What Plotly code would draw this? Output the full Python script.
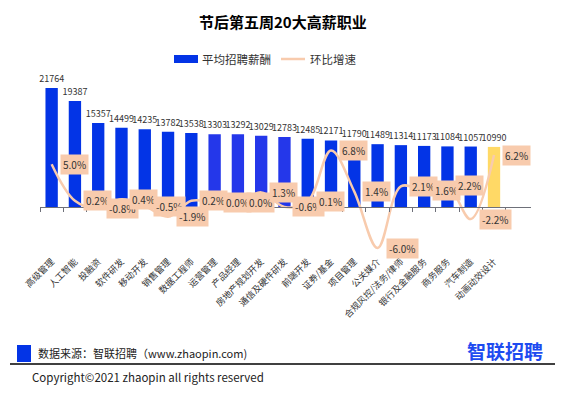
import plotly.graph_objects as go

categories = ["高级管理", "人工智能", "投融资", "软件研发", "移动开发", "销售管理", "数据工程师",
              "运营管理", "产品经理", "房地产规划开发", "通信及硬件研发", "前端开发", "证券/基金",
              "项目管理", "公关媒介", "合规风控/法务/律师", "银行及金融服务", "商务服务", "汽车制造",
              "动画动效设计"]
salary = [21764, 19387, 15357, 14499, 14235, 13782, 13538, 13303, 13292, 13029,
          12783, 12485, 12171, 11790, 11489, 11314, 11173, 11084, 11057, 10990]
growth = [5.0, 0.2, -0.8, 0.4, -0.5, -1.9, 0.2, 0.0, 0.0, 1.3,
          -0.6, 0.1, 6.8, 1.4, -6.0, 2.1, 1.6, 2.2, -2.2, 6.2]

title_text = "节后第五周20大高薪职业"
legend_names = ["平均招聘薪酬", "环比增速"]
source_text = "数据来源：智联招聘（www.zhaopin.com)"
logo_text = "智联招聘"
copyright_text = "Copyright©2021 zhaopin all rights reserved"

W, H = 565, 393
FONT = "Noto Sans CJK SC, Noto Sans, sans-serif"
BLUE = "#0334E6"
BLUE2 = "#2437EA"
YELLOW = "#FFD966"
PEACH = "#F8CBAD"

def px(x):
    return x / W

def py(y):
    return 1 - y / H

bar_colors = []
for i, c in enumerate(categories):
    if i == len(categories) - 1:
        bar_colors.append(YELLOW)
    elif 7 <= i <= 10:
        bar_colors.append(BLUE2)
    else:
        bar_colors.append(BLUE)

fig = go.Figure()
fig.add_trace(go.Bar(
    x=categories, y=salary, marker=dict(color=bar_colors, line=dict(width=0)),
    width=0.53, text=[str(v) for v in salary], textposition="outside",
    textfont=dict(size=9, color="#333333", family=FONT), constraintext="none",
    cliponaxis=False, name=legend_names[0], showlegend=False, yaxis="y"))
fig.add_trace(go.Scatter(
    x=categories, y=growth, mode="lines", line=dict(color=PEACH, width=2.5, shape="spline", smoothing=1),
    name=legend_names[1], showlegend=False, yaxis="y2"))

annotations = []
for c, g in zip(categories, growth):
    annotations.append(dict(x=c, y=g, xref="x", yref="y2", text=f"{g:.1f}%", showarrow=False,
                            xanchor="left", yanchor="middle", xshift=8, bgcolor=PEACH, borderpad=2,
                            font=dict(size=10, color="#333333", family=FONT)))

# title
annotations.append(dict(x=0.5, y=py(22), xref="paper", yref="paper", text=f"<b>{title_text}</b>",
                        showarrow=False, xanchor="center", yanchor="middle",
                        font=dict(size=15, color="#000000", family=FONT)))
# legend texts
annotations.append(dict(x=px(200), y=py(59), xref="paper", yref="paper", text=legend_names[0],
                        showarrow=False, xanchor="left", yanchor="middle",
                        font=dict(size=11.5, color="#333333", family=FONT)))
annotations.append(dict(x=px(308), y=py(59), xref="paper", yref="paper", text=legend_names[1],
                        showarrow=False, xanchor="left", yanchor="middle",
                        font=dict(size=11.5, color="#333333", family=FONT)))
# footer
annotations.append(dict(x=px(36), y=py(353), xref="paper", yref="paper", text=source_text,
                        showarrow=False, xanchor="left", yanchor="middle",
                        font=dict(size=11, color="#222222", family=FONT)))
annotations.append(dict(x=px(545), y=py(350), xref="paper", yref="paper", text=f"<b>{logo_text}</b>",
                        showarrow=False, xanchor="right", yanchor="middle",
                        font=dict(size=19, color="#1E4BF0", family=FONT)))
annotations.append(dict(x=px(30), y=py(377), xref="paper", yref="paper", text=copyright_text,
                        showarrow=False, xanchor="left", yanchor="middle",
                        font=dict(size=11.5, color="#222222", family=FONT)))

shapes = [
    dict(type="rect", xref="paper", yref="paper", x0=px(174), x1=px(198), y0=py(55), y1=py(63),
         fillcolor=BLUE, line=dict(width=0)),
    dict(type="line", xref="paper", yref="paper", x0=px(281), x1=px(305), y0=py(59), y1=py(59),
         line=dict(color=PEACH, width=2.5)),
    dict(type="rect", xref="paper", yref="paper", x0=px(17), x1=px(31), y0=py(345), y1=py(362),
         fillcolor=BLUE, line=dict(width=0)),
    dict(type="line", xref="paper", yref="paper", x0=px(10), x1=px(555), y0=py(364), y1=py(364),
         line=dict(color="#000000", width=1.5)),
]

# pixel geometry of plot area: top 70, bottom 262, baseline 207
top, bottom, base = 70, 262, 207
k1 = 21764 / (base - 88)          # value per pixel, primary
zero2, k2 = 202.3, 7.62           # secondary zero pixel, pixels per %
y1_range = [-(bottom - base) * k1, (base - top) * k1]
y2_range = [(zero2 - bottom) / k2, (zero2 - top) / k2]

fig.update_layout(
    width=W, height=H, margin=dict(l=0, r=0, t=0, b=0, autoexpand=False),
    paper_bgcolor="white", plot_bgcolor="white",
    font=dict(family=FONT),
    xaxis=dict(domain=[px(40), px(531)], anchor="free", position=py(base), type="category",
               showline=True, linecolor="#6E7079", linewidth=1, ticks="outside", ticklen=4,
               tickcolor="#6E7079", tickson="boundaries", tickangle=-45, automargin=False,
               ticklabelstandoff=45,
               tickfont=dict(size=9, color="#333333", family=FONT), showgrid=False, zeroline=False),
    yaxis=dict(domain=[py(bottom), py(top)], range=y1_range, visible=False, showgrid=False,
               automargin=False),
    yaxis2=dict(overlaying="y", range=y2_range, visible=False, showgrid=False, side="right",
                automargin=False),
    annotations=annotations, shapes=shapes, showlegend=False, bargap=0.47,
)

fig.write_html("out.html", config={"displayModeBar": False},
               post_script="document.body.style.margin='0';document.body.style.overflow='hidden';")
